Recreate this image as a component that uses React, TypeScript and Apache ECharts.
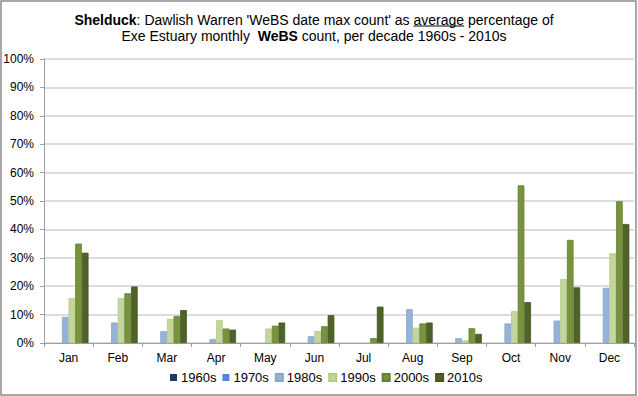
import React, { useEffect, useRef } from "react";
import * as echarts from "echarts";

const months = ["Jan", "Feb", "Mar", "Apr", "May", "Jun", "Jul", "Aug", "Sep", "Oct", "Nov", "Dec"];
const decades = ["1960s", "1970s", "1980s", "1990s", "2000s", "2010s"];
const v1960s = [0, 0, 0, 0, 0, 0, 0, 0, 0, 0, 0, 0];
const v1970s = [0, 0, 0, 0, 0, 0, 0, 0, 0, 0, 0, 0];
const v1980s = [9.2, 7.2, 4.2, 1.4, 0, 2.4, 0, 11.9, 1.7, 6.9, 7.9, 19.4];
const v1990s = [15.8, 15.8, 8.5, 8.0, 5.1, 4.2, 0, 5.4, 0.9, 11.2, 22.5, 31.6];
const v2000s = [35.0, 17.5, 9.5, 5.1, 6.1, 5.9, 1.7, 6.9, 5.2, 55.5, 36.3, 49.9];
const v2010s = [31.8, 19.9, 11.6, 4.7, 7.2, 9.8, 12.8, 7.2, 3.2, 14.4, 19.6, 41.9];
const yTicks = [0, 10, 20, 30, 40, 50, 60, 70, 80, 90, 100];

// title pieces: [text, bold, underline]
const titleLine1: [string, boolean, boolean][] = [
  ["Shelduck", true, false],
  [": Dawlish Warren 'WeBS date max count' as ", false, false],
  ["average", false, true],
  [" percentage of", false, false],
];
const titleLine2: [string, boolean, boolean][] = [
  ["Exe Estuary monthly  ", false, false],
  ["WeBS", true, false],
  [" count, per decade 1960s - 2010s", false, false],
];

const colors = ["#1f3864", "#4f86d6", "#95b3d7", "#c3d69b", "#77933c", "#4f6228"];
const borders = ["#1f3864", "#4f86d6", "#87a6cc", "#b3c88a", "#667f30", "#435420"];

export default function App() {
  const ref = useRef<HTMLDivElement>(null);
  useEffect(() => {
    if (!ref.current) return;
    const chart = echarts.init(ref.current, undefined, { renderer: "svg" });
    const all = [v1960s, v1970s, v1980s, v1990s, v2000s, v2010s];
    const fam = "'Liberation Sans', Arial, sans-serif";
    const fs = 14;
    const ctx = document.createElement("canvas").getContext("2d")!;
    const fontOf = (bold: boolean) => `${bold ? "bold " : ""}${fs}px ${fam}`;
    const measure = (t: string, bold: boolean) => {
      ctx.font = fontOf(bold);
      return ctx.measureText(t).width;
    };
    const titleCenter = 314;
    const titleElems: any[] = [];
    const layLine = (pieces: [string, boolean, boolean][], yMid: number) => {
      const widths = pieces.map(([t, b]) => measure(t, b));
      const total = widths.reduce((a, b) => a + b, 0);
      let x = titleCenter - total / 2;
      pieces.forEach(([t, b, u], k) => {
        titleElems.push({
          type: "text",
          silent: true,
          style: {
            x,
            y: yMid,
            text: t,
            font: fontOf(b),
            fill: "#000",
            align: "left",
            verticalAlign: "middle",
          },
        });
        if (u) {
          titleElems.push({
            type: "line",
            silent: true,
            shape: { x1: x, y1: yMid + 6.5, x2: x + widths[k], y2: yMid + 6.5 },
            style: { stroke: "#000", lineWidth: 1 },
          });
        }
        x += widths[k];
      });
    };
    layLine(titleLine1, 19.5);
    layLine(titleLine2, 35.5);

    chart.setOption({
      animation: false,
      backgroundColor: "#ffffff",
      textStyle: { fontFamily: fam },
      graphic: [
        {
          type: "rect",
          silent: true,
          shape: { x: 1, y: 1, width: 635, height: 394 },
          style: { fill: "none", stroke: "#8a8a8a", lineWidth: 1.5 },
        },
        ...titleElems,
      ],
      legend: {
        bottom: 7,
        left: 165,
        itemWidth: 7,
        itemHeight: 7,
        itemGap: 6,
        icon: "rect",
        textStyle: { fontFamily: fam, fontSize: 13, color: "#000", padding: [0, 0, 0, -1] },
        data: decades,
      },
      grid: { left: 44, right: 4, top: 59, bottom: 53 },
      xAxis: {
        type: "category",
        data: months,
        axisLine: { lineStyle: { color: "#a0a0a0", width: 1 } },
        axisTick: { show: true, length: 4, alignWithLabel: false, lineStyle: { color: "#a0a0a0" } },
        axisLabel: { fontFamily: fam, fontSize: 12, color: "#000", margin: 9 },
      },
      yAxis: {
        type: "value",
        min: yTicks[0],
        max: yTicks[yTicks.length - 1],
        interval: 10,
        axisLine: { show: true, lineStyle: { color: "#a0a0a0", width: 1 } },
        axisTick: { show: true, length: 4, lineStyle: { color: "#a0a0a0" } },
        axisLabel: { fontFamily: fam, fontSize: 12, color: "#000", margin: 10, formatter: "{value}%" },
        splitLine: { lineStyle: { color: "#d0d0d0", width: 1.5 } },
      },
      series: decades.map((d, i) => ({
        name: d,
        type: "bar",
        data: all[i].map((v) => (v === 0 ? { value: 0, itemStyle: { borderWidth: 0 } } : v)),
        barGap: "0%",
        barCategoryGap: "19%",
        itemStyle: {
          color: colors[i],
          borderColor: borders[i],
          borderWidth: i < 2 ? 0 : 0.8,
        },
      })),
    });
    return () => chart.dispose();
  }, []);
  return (
    <div
      ref={ref}
      style={{ position: "absolute", left: 0, top: 0, width: 638, height: 396 }}
    />
  );
}
